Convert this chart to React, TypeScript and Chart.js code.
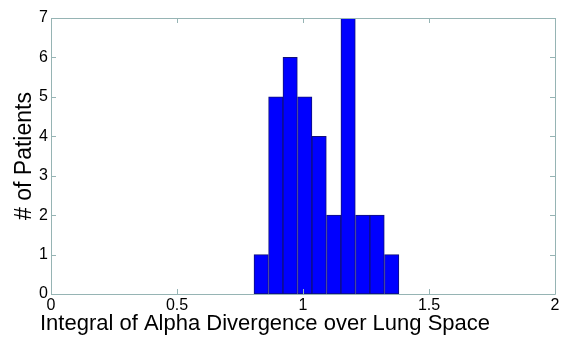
import { useEffect, useRef } from 'react';
import { Chart, registerables } from 'chart.js';

Chart.register(...registerables);

// Histogram bins (centers) and counts
const binCenters = [0.834, 0.892, 0.949, 1.007, 1.064, 1.122, 1.179, 1.237, 1.294, 1.352];
const patientCounts = [1, 5, 6, 5, 4, 2, 7, 2, 2, 1];
const xTickValues = [0, 0.5, 1, 1.5, 2];
const yTickValues = [0, 1, 2, 3, 4, 5, 6, 7];
const xTitle = 'Integral of Alpha Divergence over Lung Space';
const yTitle = '# of Patients';

const FRAME = 'rgb(150,180,180)';
const FONT = 'Liberation Sans, Arial, sans-serif';

const framePlugin = {
  id: 'matlabFrame',
  afterDraw(chart: any) {
    const { ctx, chartArea } = chart;
    const xs = chart.scales.x;
    const ys = chart.scales.y;
    const { left, right, top, bottom } = chartArea;
    ctx.save();
    ctx.strokeStyle = FRAME;
    ctx.lineWidth = 1;
    ctx.beginPath();
    ctx.rect(Math.round(left) + 0.5, Math.round(top) + 0.5, Math.round(right - left), Math.round(bottom - top));
    ctx.stroke();
    const tl = 5;
    ctx.beginPath();
    for (const v of xTickValues) {
      const px = Math.round(xs.getPixelForValue(v)) + 0.5;
      ctx.moveTo(px, bottom);
      ctx.lineTo(px, bottom - tl);
      ctx.moveTo(px, top);
      ctx.lineTo(px, top + tl);
    }
    for (const v of yTickValues) {
      const py = Math.round(ys.getPixelForValue(v)) + 0.5;
      ctx.moveTo(left, py);
      ctx.lineTo(left + tl, py);
      ctx.moveTo(right, py);
      ctx.lineTo(right - tl, py);
    }
    ctx.stroke();
    // x-axis title (placed as in the reference, left of the axes centre)
    ctx.fillStyle = '#000';
    ctx.font = `22px ${FONT}`;
    ctx.textAlign = 'center';
    ctx.textBaseline = 'alphabetic';
    ctx.fillText(xTitle, 265, 330);
    ctx.restore();
  },
};

export default function App() {
  const ref = useRef<HTMLCanvasElement | null>(null);
  useEffect(() => {
    document.body.style.margin = '0';
    const canvas = ref.current!;
    const chart = new Chart(canvas, {
      type: 'bar',
      data: {
        datasets: [
          {
            data: binCenters.map((x, i) => ({ x, y: patientCounts[i] })),
            backgroundColor: '#0000ff',
            borderColor: '#10107a',
            borderWidth: 1,
            borderSkipped: false,
            barPercentage: 1,
            categoryPercentage: 1,
          },
        ],
      },
      options: {
        animation: false,
        responsive: false,
        maintainAspectRatio: false,
        layout: { padding: { top: 18, right: 8, left: 0, bottom: 0 } },
        plugins: { legend: { display: false }, tooltip: { enabled: false } },
        scales: {
          x: {
            type: 'linear',
            min: 0,
            max: 2,
            offset: false,
            grid: { display: false, drawTicks: false },
            border: { display: false },
            afterBuildTicks(scale: any) {
              scale.ticks = xTickValues.map((v) => ({ value: v }));
            },
            ticks: {
              padding: 2,
              color: '#000',
              font: { family: FONT, size: 16 },
              maxRotation: 0,
              autoSkip: false,
              callback: (v: any) => String(v),
            },
            title: { display: false },
            afterFit(scale: any) {
              scale.height = 43;
            },
          },
          y: {
            min: 0,
            max: 7,
            grid: { display: false, drawTicks: false },
            border: { display: false },
            afterBuildTicks(scale: any) {
              scale.ticks = yTickValues.map((v) => ({ value: v }));
            },
            ticks: {
              padding: 3,
              color: '#000',
              font: { family: FONT, size: 16 },
              callback: (v: any) => String(v),
            },
            title: {
              display: true,
              text: yTitle,
              color: '#000',
              font: { family: FONT, size: 23 },
              padding: { top: 11, bottom: 0 },
            },
            afterFit(scale: any) {
              scale.width = 51;
            },
          },
        },
      },
      plugins: [framePlugin],
    });
    return () => chart.destroy();
  }, []);
  return (
    <div style={{ position: 'absolute', left: 0, top: 0, width: 563, height: 337, background: '#fff' }}>
      <canvas ref={ref} width={563} height={337} style={{ width: 563, height: 337, display: 'block' }} />
    </div>
  );
}
